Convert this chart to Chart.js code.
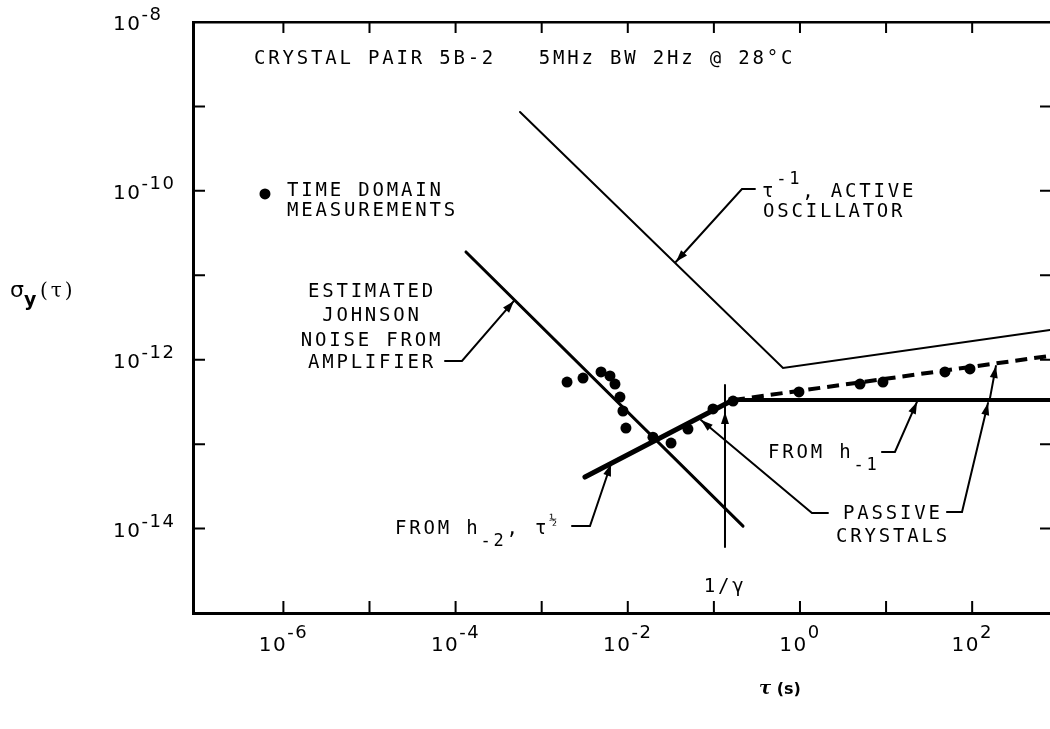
<!DOCTYPE html>
<html>
<head>
<meta charset="utf-8">
<script src="https://cdn.jsdelivr.net/npm/chart.js@4.4.1/dist/chart.umd.min.js"></script>
<style>
  html, body { margin: 0; padding: 0; background: #fff; }
  #wrap { width: 1050px; height: 729px; }
</style>
</head>
<body>
<div id="wrap"><canvas id="sigmaChart" width="1050" height="729"></canvas></div>
<script>
// time domain measurements (tau in s, sigma_y)
const tauMeas   = [1.97e-3, 3.02e-3, 4.89e-3, 6.21e-3, 7.10e-3, 8.11e-3, 8.79e-3, 9.52e-3, 1.96e-2, 3.18e-2, 5.00e-2, 9.77e-2, 0.167, 0.973, 4.98, 9.20, 48.3, 94.3];
const sigmaMeas = [5.44e-13, 6.07e-13, 7.16e-13, 6.42e-13, 5.15e-13, 3.61e-13, 2.47e-13, 1.55e-13, 1.21e-13, 1.03e-13, 1.51e-13, 2.61e-13, 3.24e-13, 4.15e-13, 5.15e-13, 5.44e-13, 7.16e-13, 7.77e-13];

// tau^-1, active oscillator
const tauActive   = [5.60e-4, 0.635, 801];
const sigmaActive = [8.59e-10, 7.98e-13, 2.25e-12];

// estimated johnson noise from amplifier
const tauJohnson   = [1.32e-4, 0.218];
const sigmaJohnson = [1.89e-11, 1.07e-14];

// from h-2, tau^1/2
const tauH2   = [3.18e-3, 0.167];
const sigmaH2 = [4.08e-14, 3.33e-13];

// from h-1 (flat floor)
const tauH1   = [0.167, 1000];
const sigmaH1 = [3.33e-13, 3.33e-13];

// passive crystals (dashed)
const tauPassive   = [0.167, 801];
const sigmaPassive = [3.33e-13, 1.11e-12];

// 1/gamma marker
const tauGamma   = [0.1346, 0.1346];
const sigmaGamma = [5.02e-13, 6.05e-15];

// tick labels (decade exponents)
const xLabelExp = [-6, -4, -2, 0, 2];
const yLabelExp = [-8, -10, -12, -14];
const xTickExp = [-6, -5, -4, -3, -2, -1, 0, 1, 2];
const yTickExp = [-14, -13, -12, -11, -10, -9];

function pts(xs, ys) {
  return xs.map((v, i) => ({ x: v, y: ys[i] }));
}

function line(label, xs, ys, w) {
  return {
    label: label,
    data: pts(xs, ys),
    showLine: true,
    borderColor: '#000',
    borderWidth: w,
    pointRadius: 0,
    fill: false,
    tension: 0,
    borderCapStyle: 'round'
  };
}

const MONO = '19px "DejaVu Sans Mono"';
const MONO_SM = '17px "DejaVu Sans Mono"';
const MONO_XS = '13px "DejaVu Sans Mono"';

// annotation text, anchored in log10 data coords [tau, sigma]
const notes = [
  { at: [-6.341, -8.497], parts: [['CRYSTAL PAIR 5B-2   5MHz BW 2Hz @ 28°C']] },
  { at: [-5.958, -10.061], parts: [['TIME DOMAIN']] },
  { at: [-5.958, -10.298], parts: [['MEASUREMENTS']] },
  { at: [-4.971, -11.257], align: 'center', parts: [['ESTIMATED']] },
  { at: [-4.971, -11.541], align: 'center', parts: [['JOHNSON']] },
  { at: [-4.971, -11.838], align: 'center', parts: [['NOISE FROM']] },
  { at: [-4.971, -12.098], align: 'center', parts: [['AMPLIFIER']] },
  { at: [-0.441, -10.073], parts: [['τ'], ['-1', MONO_SM, -13], [', ACTIVE']] },
  { at: [-0.43, -10.31], parts: [['OSCILLATOR']] },
  { at: [-4.704, -14.064], parts: [['FROM h'], ['-2', MONO_SM, 12], [', τ'], ['½', MONO_XS, -10]] },
  { at: [-0.372, -13.17], parts: [['FROM h'], ['-1', MONO_SM, 12]] },
  { at: [1.08, -13.886], align: 'center', parts: [['PASSIVE']] },
  { at: [1.08, -14.159], align: 'center', parts: [['CRYSTALS']] },
  { at: [-0.87, -14.751], align: 'center', parts: [['1/γ']] }
];

// leader lines with arrow at the last point, log10 coords
const leaders = [
  [[-4.123, -12.015], [-3.926, -12.015], [-3.322, -11.304]],
  [[-0.523, -9.978], [-0.674, -9.978], [-1.440, -10.84]],
  [[-2.648, -13.969], [-2.439, -13.969], [-2.195, -13.235]],
  [[0.952, -13.093], [1.103, -13.093], [1.359, -12.50]],
  [[0.325, -13.815], [0.139, -13.815], [-1.150, -12.715]],
  [[1.707, -13.804], [1.882, -13.804], [2.184, -12.513]],
  [[2.207, -12.455], [2.276, -12.074]]
];
const arrowOnly = [[-0.871, -12.85, -0.871, -12.619]];

function rich(ctx, parts, x0, y0, align, spacing) {
  ctx.letterSpacing = spacing;
  let w = 0;
  parts.forEach(p => { ctx.font = p[1] || MONO; w += ctx.measureText(p[0]).width; });
  let cx = align === 'center' ? x0 - w / 2 : (align === 'right' ? x0 - w : x0);
  parts.forEach(p => {
    ctx.font = p[1] || MONO;
    ctx.fillText(p[0], cx, y0 + (p[2] || 0));
    cx += ctx.measureText(p[0]).width;
  });
  ctx.letterSpacing = '0px';
}

function arrowHead(ctx, x1, y1, x2, y2) {
  const ang = Math.atan2(y2 - y1, x2 - x1);
  const L = 12, H = 4;
  ctx.beginPath();
  ctx.moveTo(x2, y2);
  ctx.lineTo(x2 - L * Math.cos(ang) + H * Math.sin(ang), y2 - L * Math.sin(ang) - H * Math.cos(ang));
  ctx.lineTo(x2 - L * Math.cos(ang) - H * Math.sin(ang), y2 - L * Math.sin(ang) + H * Math.cos(ang));
  ctx.closePath();
  ctx.fill();
}

const plotNotes = {
  id: 'plotNotes',
  afterDraw(chart) {
    const { ctx, chartArea: a } = chart;
    const sx = chart.scales.x, sy = chart.scales.y;
    const X = e => sx.getPixelForValue(Math.pow(10, e));
    const Y = e => sy.getPixelForValue(Math.pow(10, e));
    ctx.save();
    ctx.fillStyle = '#000';
    ctx.strokeStyle = '#000';
    ctx.textAlign = 'left';
    ctx.textBaseline = 'alphabetic';

    // inward tick marks on all four sides
    ctx.lineWidth = 2;
    ctx.beginPath();
    xTickExp.forEach(e => {
      const px = X(e);
      ctx.moveTo(px, a.bottom); ctx.lineTo(px, a.bottom - 12);
      ctx.moveTo(px, a.top); ctx.lineTo(px, a.top + 11);
    });
    yTickExp.forEach(e => {
      const py = Y(e);
      ctx.moveTo(a.left, py); ctx.lineTo(a.left + 12, py);
      ctx.moveTo(a.right, py); ctx.lineTo(a.right - 10, py);
    });
    ctx.stroke();

    // tick labels 10^n
    const base = '20px "DejaVu Sans"', sup = '18px "DejaVu Sans"';
    xLabelExp.forEach(e => {
      rich(ctx, [['10', base, 0], [String(e), sup, -13]], X(e), a.bottom + 38, 'center', '1.5px');
    });
    yLabelExp.forEach(e => {
      rich(ctx, [['10', base, 0], [String(e), sup, -10]], 113, Y(e) + 8, 'left', '1.5px');
    });

    // axis titles
    ctx.font = '22px "DejaVu Sans"';
    ctx.fillText('σ', 10, 297);
    ctx.font = 'bold 19px "DejaVu Sans"';
    ctx.fillText('y', 24, 306);
    rich(ctx, [['(τ)', '20px "DejaVu Serif"', 0]], 40, 297, 'left', '3px');
    rich(ctx, [['τ', 'italic bold 18px "DejaVu Serif"', 0], [' (s)', 'bold 16px "DejaVu Sans"', 0]], 780, 694, 'center', '0px');

    // legend marker for measurements
    ctx.beginPath();
    ctx.arc(X(-6.214), Y(-10.037), 5.5, 0, Math.PI * 2);
    ctx.fill();

    // annotation text
    notes.forEach(n => rich(ctx, n.parts, X(n.at[0]), Y(n.at[1]), n.align || 'left', '2.8px'));

    // leader lines with arrows
    ctx.lineWidth = 2;
    ctx.lineCap = 'round';
    leaders.forEach(l => {
      ctx.beginPath();
      l.forEach((p, i) => {
        if (i === 0) ctx.moveTo(X(p[0]), Y(p[1]));
        else ctx.lineTo(X(p[0]), Y(p[1]));
      });
      ctx.stroke();
      const p1 = l[l.length - 2], p2 = l[l.length - 1];
      arrowHead(ctx, X(p1[0]), Y(p1[1]), X(p2[0]), Y(p2[1]));
    });
    arrowOnly.forEach(r => arrowHead(ctx, X(r[0]), Y(r[1]), X(r[2]), Y(r[3])));
    ctx.restore();
  }
};

const xRange = { min: Math.pow(10, -7.05), max: Math.pow(10, 2.904) };

const config = {
  type: 'scatter',
  data: {
    datasets: [
      {
        label: 'Time domain measurements',
        data: pts(tauMeas, sigmaMeas),
        showLine: false,
        pointRadius: 5.5,
        pointHoverRadius: 5.5,
        backgroundColor: '#000',
        borderColor: '#000',
        borderWidth: 0
      },
      line('tau^-1, active oscillator', tauActive, sigmaActive, 2),
      line('Estimated Johnson noise', tauJohnson, sigmaJohnson, 3),
      line('From h-2', tauH2, sigmaH2, 5),
      line('From h-1', tauH1, sigmaH1, 4),
      Object.assign(line('Passive crystals', tauPassive, sigmaPassive, 4), { borderDash: [12, 7], borderCapStyle: 'butt' }),
      line('1/gamma', tauGamma, sigmaGamma, 2)
    ]
  },
  options: {
    responsive: false,
    animation: false,
    devicePixelRatio: 1,
    events: [],
    layout: { padding: 0, autoPadding: false },
    plugins: {
      legend: { display: false },
      tooltip: { enabled: false }
    },
    scales: {
      x: {
        type: 'logarithmic',
        position: 'bottom',
        min: xRange.min,
        max: xRange.max,
        ticks: { display: false },
        grid: { display: false },
        border: { display: true, width: 3, color: '#000' },
        afterFit: s => { s.height = 116; }
      },
      xTop: {
        type: 'logarithmic',
        position: 'top',
        min: xRange.min,
        max: xRange.max,
        ticks: { display: false },
        grid: { display: false },
        border: { display: true, width: 2.5, color: '#000' },
        afterFit: s => { s.height = 22; }
      },
      y: {
        type: 'logarithmic',
        position: 'left',
        min: 1e-15,
        max: 1e-8,
        ticks: { display: false },
        grid: { display: false },
        border: { display: true, width: 3, color: '#000' },
        afterFit: s => { s.width = 193; }
      }
    }
  },
  plugins: [plotNotes]
};

const chart = new Chart(document.querySelector('#sigmaChart'), config);
</script>
</body>
</html>
